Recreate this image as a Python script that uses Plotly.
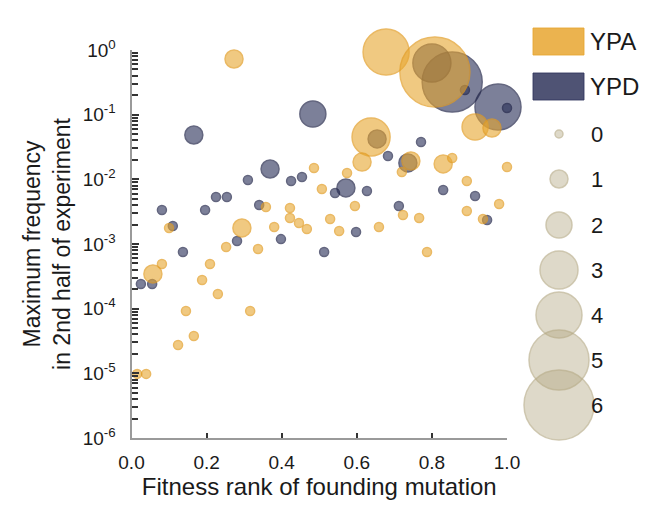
import plotly.graph_objects as go

# ---------------- data ----------------
# YPA (orange)
ypa_x = [0.678, 0.808, 0.915, 0.960, 0.638, 0.273, 0.614, 0.744, 0.830, 0.854, 0.294, 0.057,
         0.486, 0.574, 0.507, 0.720, 1.000, 0.893, 0.979, 0.893, 0.936, 0.723, 0.766, 0.595,
         0.529, 0.553, 0.659, 0.787, 0.358, 0.422, 0.422, 0.446, 0.467, 0.380, 0.100, 0.252,
         0.337, 0.081, 0.209, 0.188, 0.230, 0.145, 0.316, 0.166, 0.124, 0.015, 0.039]
ypa_y = [0.93, 0.457, 0.0644, 0.0622, 0.0452, 0.726, 0.0185, 0.0192, 0.0173, 0.0214, 0.00177, 0.000344,
         0.0150, 0.0125, 0.00709, 0.0130, 0.0155, 0.00942, 0.00416, 0.00324, 0.00244, 0.00281, 0.00252, 0.00387,
         0.00244, 0.00159, 0.00183, 0.000752, 0.00373, 0.00360, 0.00252, 0.00211, 0.00171, 0.00183, 0.00177, 0.00090,
         0.000837, 0.000491, 0.000491, 0.000277, 0.000169, 9.2e-5, 9.2e-5, 3.78e-5, 2.74e-5, 9.8e-6, 9.8e-6]
ypa_n = [4, 6, 2, 1, 3, 1, 1, 1, 1, 0, 1, 1] + [0] * 35

# YPD (navy)
ypd_x = [0.854, 0.800, 0.976, 0.483, 0.166, 0.369, 0.571, 0.654, 0.736, 0.888, 1.000, 0.771,
         0.683, 0.310, 0.425, 0.454, 0.542, 0.627, 0.225, 0.254, 0.081, 0.196, 0.340, 0.110,
         0.281, 0.398, 0.137, 0.025, 0.055, 0.712, 0.598, 0.513, 0.830, 0.915, 0.947]
ypd_y = [0.320, 0.630, 0.1315, 0.1023, 0.0485, 0.01445, 0.00735, 0.0421, 0.0179, 0.2406, 0.1268, 0.0378,
         0.0230, 0.00977, 0.00942, 0.01087, 0.00615, 0.00660, 0.00533, 0.00533, 0.00336, 0.00336, 0.00401, 0.00190,
         0.00111, 0.00119, 0.000752, 0.000241, 0.000241, 0.00387, 0.00153, 0.000752, 0.00684, 0.00552, 0.00235]
ypd_n = [5, 3, 4, 2, 1, 1, 1, 1, 1] + [0] * 26

size_levels = [0, 1, 2, 3, 4, 5, 6]
x_ticks = [0.0, 0.2, 0.4, 0.6, 0.8, 1.0]
x_ticktext = ["0.0", "0.2", "0.4", "0.6", "0.8", "1.0"]
y_exponents = [-6, -5, -4, -3, -2, -1, 0]
series_names = ["YPA", "YPD"]

# ---------------- style ----------------
# the page body adds an 8 px offset, so the figure is drawn 8 px smaller
OFF = 8
W, H = 671 - OFF, 521 - OFF
FONT = "Liberation Sans, Arial, sans-serif"
TXT = "#1a1a1a"
SIZE_PX = [9, 18, 26, 38, 46, 60, 70]  # marker diameter per count level
ORANGE_FILL = "rgba(232,166,48,0.86)"
ORANGE_LINE = "rgba(226,156,34,1)"
NAVY_FILL = "rgba(40,45,86,0.86)"
NAVY_LINE = "rgba(34,38,74,1)"
TAN_FILL = "rgba(178,166,128,0.6)"
TAN_LINE = "rgba(178,166,128,0.85)"

PL, PR, PT, PB = 131.5 - OFF, 507 - OFF, 50 - OFF, 438 - OFF  # plot area in pixels

fig = go.Figure()

fig.add_trace(go.Scatter(
    x=ypd_x, y=ypd_y, mode="markers", name="YPD", showlegend=False, cliponaxis=False,
    marker=dict(size=[SIZE_PX[n] for n in ypd_n], color=NAVY_FILL,
                line=dict(color=NAVY_LINE, width=1.5))))
fig.add_trace(go.Scatter(
    x=ypa_x, y=ypa_y, mode="markers", name="YPA", showlegend=False, cliponaxis=False,
    marker=dict(size=[SIZE_PX[n] for n in ypa_n], color=ORANGE_FILL,
                line=dict(color=ORANGE_LINE, width=1.5))))

# ---------------- custom legend on a pixel overlay axis ----------------
LEG_CX = 559 - OFF
LEG_TX = 589 - OFF
leg_y = [v - OFF for v in [134, 179, 225, 270, 315, 360, 405]]
fig.add_trace(go.Scatter(
    x=[LEG_CX] * len(size_levels), y=leg_y, xaxis="x2", yaxis="y2", mode="markers",
    showlegend=False, hoverinfo="skip", cliponaxis=False,
    marker=dict(size=[SIZE_PX[n] - (1 if n == 0 else 0) for n in size_levels], color=TAN_FILL,
                line=dict(color=TAN_LINE, width=1.5))))

annotations = []
for lvl, yy in zip(size_levels, leg_y):
    annotations.append(dict(x=LEG_TX, y=yy, xref="x2", yref="y2", text=str(lvl), showarrow=False,
                            xanchor="left", yanchor="middle", font=dict(family=FONT, size=22, color=TXT)))

shapes = []
rects = [(28 - OFF, 55 - OFF, "rgba(232,166,48,0.85)"), (73 - OFF, 100 - OFF, "rgba(48,53,92,0.85)")]
for name, (y0, y1, col) in zip(series_names, rects):
    shapes.append(dict(type="rect", xref="x2", yref="y2", x0=533 - OFF, x1=584 - OFF, y0=y0, y1=y1,
                       fillcolor=col, line=dict(color=col, width=1)))
    annotations.append(dict(x=LEG_TX - 1, y=(y0 + y1) / 2, xref="x2", yref="y2", text=name, showarrow=False,
                            xanchor="left", yanchor="middle", font=dict(family=FONT, size=24, color=TXT)))

fig.update_layout(
    template="none",
    width=W, height=H,
    margin=dict(l=0, r=0, t=0, b=0, pad=0),
    paper_bgcolor="white", plot_bgcolor="rgba(0,0,0,0)",
    font=dict(family=FONT, color=TXT),
    shapes=shapes, annotations=annotations,
    xaxis=dict(
        domain=[PL / W, PR / W], range=[0, 1], anchor="y", automargin=False,
        tickmode="array", tickvals=x_ticks, ticktext=x_ticktext,
        ticks="inside", ticklen=5, tickwidth=1.5, tickcolor="#333",
        showline=True, linecolor="#9a9a9a", linewidth=2,
        showgrid=False, zeroline=False, ticklabelstandoff=6,
        tickfont=dict(family=FONT, size=19, color=TXT),
        title=dict(text="Fitness rank of founding mutation", standoff=0,
                   font=dict(family=FONT, size=24, color=TXT)),
    ),
    yaxis=dict(
        type="log", domain=[(H - PB) / H, (H - PT) / H], range=[-6, 0], anchor="x", automargin=False,
        tickmode="array", tickvals=[10.0 ** e for e in y_exponents],
        ticktext=["10<sup>%d</sup>" % e for e in y_exponents],
        ticks="inside", ticklen=7, tickwidth=1.5, tickcolor="#333",
        minor=dict(dtick="D1", ticks="inside", ticklen=6,
                   tickwidth=1.5, tickcolor="#333", showgrid=False),
        showline=True, linecolor="#9a9a9a", linewidth=2,
        showgrid=False, zeroline=False, ticklabelstandoff=10,
        tickfont=dict(family=FONT, size=19, color=TXT),
        title=dict(text="Maximum frequency<br>in 2nd half of experiment", standoff=6,
                   font=dict(family=FONT, size=23, color=TXT)),
    ),
    xaxis2=dict(domain=[0, 1], range=[0, W], visible=False, anchor="y2", fixedrange=True, automargin=False),
    yaxis2=dict(domain=[0, 1], range=[H, 0], visible=False, anchor="x2", fixedrange=True, automargin=False),
)

fig.write_html("out.html")
